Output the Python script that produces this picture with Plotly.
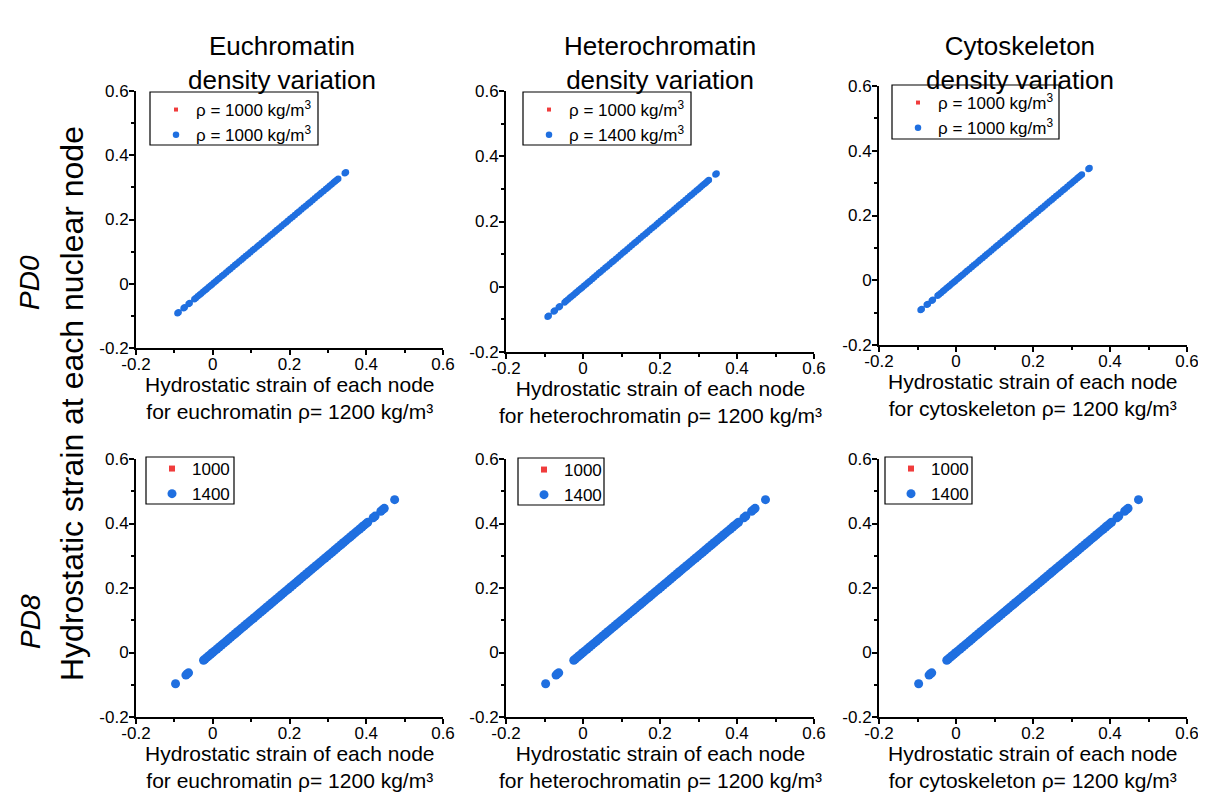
import plotly.graph_objects as go

# ---------------- data ----------------
columns = ["Euchromatin", "Heterochromatin", "Cytoskeleton"]
materials = ["euchromatin", "heterochromatin", "cytoskeleton"]
rows = ["PD0", "PD8"]

# hydrostatic strain per node (reference rho = 1200 kg/m3) - PD0
pd0_strain = [-0.092, -0.089, -0.076, -0.073, -0.063, -0.060, -0.048, -0.044,
              -0.039, -0.034, -0.030, -0.025, -0.020, -0.016, -0.011, -0.006,
              -0.002, 0.003, 0.008, 0.013, 0.018, 0.024, 0.029, 0.035, 0.041,
              0.046, 0.052, 0.058, 0.063, 0.069, 0.075, 0.080, 0.086, 0.092,
              0.098, 0.104, 0.109, 0.115, 0.121, 0.127, 0.133, 0.138, 0.144,
              0.150, 0.156, 0.162, 0.167, 0.173, 0.179, 0.185, 0.191, 0.196,
              0.202, 0.208, 0.214, 0.220, 0.225, 0.231, 0.237, 0.243, 0.249,
              0.254, 0.260, 0.266, 0.272, 0.278, 0.283, 0.289, 0.295, 0.300,
              0.305, 0.310, 0.315, 0.319, 0.323, 0.327, 0.344, 0.347]
# PD8
pd8_strain = [-0.097, -0.070, -0.066, -0.063, -0.024, -0.020, -0.015, -0.010,
              -0.005, 0.000, 0.005, 0.011, 0.017, 0.023, 0.029, 0.035, 0.041,
              0.047, 0.053, 0.059, 0.065, 0.071, 0.077, 0.083, 0.089, 0.095,
              0.101, 0.107, 0.113, 0.119, 0.125, 0.131, 0.137, 0.143, 0.149,
              0.155, 0.161, 0.167, 0.173, 0.179, 0.185, 0.191, 0.197, 0.203,
              0.209, 0.215, 0.221, 0.227, 0.233, 0.239, 0.245, 0.251, 0.257,
              0.263, 0.269, 0.275, 0.281, 0.287, 0.293, 0.299, 0.305, 0.311,
              0.317, 0.323, 0.329, 0.335, 0.341, 0.347, 0.353, 0.359, 0.365,
              0.371, 0.377, 0.383, 0.389, 0.394, 0.399, 0.404, 0.418, 0.423,
              0.438, 0.443, 0.447, 0.474]

# strain at each node for the varied densities (lies on the identity line)
pd0_varied = list(pd0_strain)
pd8_varied = list(pd8_strain)

legend_top = {
    "Euchromatin": ["ρ = 1000 kg/m<sup>3</sup>", "ρ = 1000 kg/m<sup>3</sup>"],
    "Heterochromatin": ["ρ = 1000 kg/m<sup>3</sup>", "ρ = 1400 kg/m<sup>3</sup>"],
    "Cytoskeleton": ["ρ = 1000 kg/m<sup>3</sup>", "ρ = 1000 kg/m<sup>3</sup>"],
}
legend_bottom = ["1000", "1400"]

tick_vals = [-0.2, 0, 0.2, 0.4, 0.6]
tick_text = ["-0.2", "0", "0.2", "0.4", "0.6"]

# ---------------- layout geometry (page pixels) ----------------
OFF = 8                      # page body margin
W, H = 1206 - OFF, 793 - OFF
FONT = "Arial, Liberation Sans, Helvetica, sans-serif"


def px(x):
    return (x - OFF) / W


def py(y):
    return 1 - (y - OFF) / H


col_x = [(136, 443), (506, 814), (879, 1187)]
row_y = [[(91, 348), (91, 352), (86, 345)],
         [(459, 717), (459, 717), (459, 717)]]
# legend boxes (left, top, right, bottom)
legend_box = [[(150, 92, 318, 145), (523, 92, 691, 145), (892, 85, 1059, 139)],
              [(146, 457, 234, 504), (518, 458, 604, 505), (885, 457, 972, 504)]]

BLUE = "#1f6fe0"
RED = "#f03c3c"

fig = go.Figure()
layout = dict(
    width=W, height=H,
    margin=dict(l=0, r=0, t=0, b=0, pad=0, autoexpand=False),
    paper_bgcolor="white", plot_bgcolor="white",
    font=dict(family=FONT, color="black"),
    showlegend=True,
)

annotations = []
shapes = []
k = 0
for r, row in enumerate(rows):
    data_x = pd0_strain if r == 0 else pd8_strain
    data_y = pd0_varied if r == 0 else pd8_varied
    msize_red = 4 if r == 0 else 6
    msize_blue = 6.5 if r == 0 else 9
    for c, col in enumerate(columns):
        k += 1
        xa = "x" if k == 1 else f"x{k}"
        ya = "y" if k == 1 else f"y{k}"
        lg = "legend" if k == 1 else f"legend{k}"
        names = legend_top[col] if r == 0 else legend_bottom
        fig.add_trace(go.Scatter(
            x=data_x, y=data_y, mode="markers", name=names[0],
            marker=dict(symbol="square", size=msize_red, color=RED),
            xaxis=xa, yaxis=ya, legend=lg, cliponaxis=False))
        fig.add_trace(go.Scatter(
            x=data_x, y=data_y, mode="markers", name=names[1],
            marker=dict(symbol="circle", size=msize_blue, color=BLUE),
            xaxis=xa, yaxis=ya, legend=lg, cliponaxis=False))

        x0, x1 = col_x[c]
        yt, yb = row_y[r][c]
        axis_common = dict(
            range=[-0.2, 0.6], showgrid=False, zeroline=False,
            showline=True, linecolor="black", linewidth=2,
            ticks="outside", ticklen=5, tickwidth=2, tickcolor="black",
            tickvals=tick_vals, ticktext=tick_text,
            tickfont=dict(family=FONT, size=17, color="black"),
            minor=dict(dtick=0.1, tick0=0, ticks="outside", ticklen=3,
                       tickwidth=2, tickcolor="black", showgrid=False),
            fixedrange=True, automargin=False,
        )
        layout["xaxis" if k == 1 else f"xaxis{k}"] = dict(
            axis_common, domain=[px(x0), px(x1)], anchor=ya,
            ticklabelstandoff=-5)
        layout["yaxis" if k == 1 else f"yaxis{k}"] = dict(
            axis_common, domain=[py(yb), py(yt)], anchor=xa,
            ticklabelstandoff=-3)

        bl, bt, br, bb = legend_box[r][c]
        shapes.append(dict(
            type="rect", xref="paper", yref="paper",
            x0=px(bl), x1=px(br), y0=py(bb), y1=py(bt),
            line=dict(color="black", width=1.2), fillcolor="white",
            layer="below"))
        layout[lg] = dict(
            x=px(bl + 6), y=py(bt - (0 if r == 0 else 6)),
            xanchor="left", yanchor="top",
            borderwidth=0, bgcolor="rgba(0,0,0,0)",
            font=dict(family=FONT, size=17, color="black"),
            tracegroupgap=0, itemclick=False, itemdoubleclick=False,
        )

        # x-axis title (two lines)
        annotations.append(dict(
            x=px((x0 + x1) / 2), y=py(yb + 50), xref="paper", yref="paper",
            text=f"Hydrostatic strain of each node<br>for {materials[c]} ρ= 1200 kg/m³",
            showarrow=False, xanchor="center", yanchor="middle",
            font=dict(family=FONT, size=21, color="black")))

# column titles
col_centers = [282, 660, 1020]
for c, col in enumerate(columns):
    annotations.append(dict(
        x=px(col_centers[c]), y=py(63), xref="paper", yref="paper",
        text=f"{col}<br>density variation", showarrow=False,
        xanchor="center", yanchor="middle",
        font=dict(family=FONT, size=26, color="black")))

# shared y title
annotations.append(dict(
    x=px(72), y=py(404), xref="paper", yref="paper",
    text="Hydrostatic strain at each nuclear node", textangle=-90,
    showarrow=False, xanchor="center", yanchor="middle",
    font=dict(family=FONT, size=32, color="black")))

# row labels
for r, (row, yc) in enumerate(zip(rows, [283, 622])):
    annotations.append(dict(
        x=px(30), y=py(yc), xref="paper", yref="paper",
        text=f"<i>{row}</i>", textangle=-90,
        showarrow=False, xanchor="center", yanchor="middle",
        font=dict(family=FONT, size=28, color="black")))

layout["annotations"] = annotations
layout["shapes"] = shapes
fig.update_layout(**layout)
fig.write_html("out.html")
